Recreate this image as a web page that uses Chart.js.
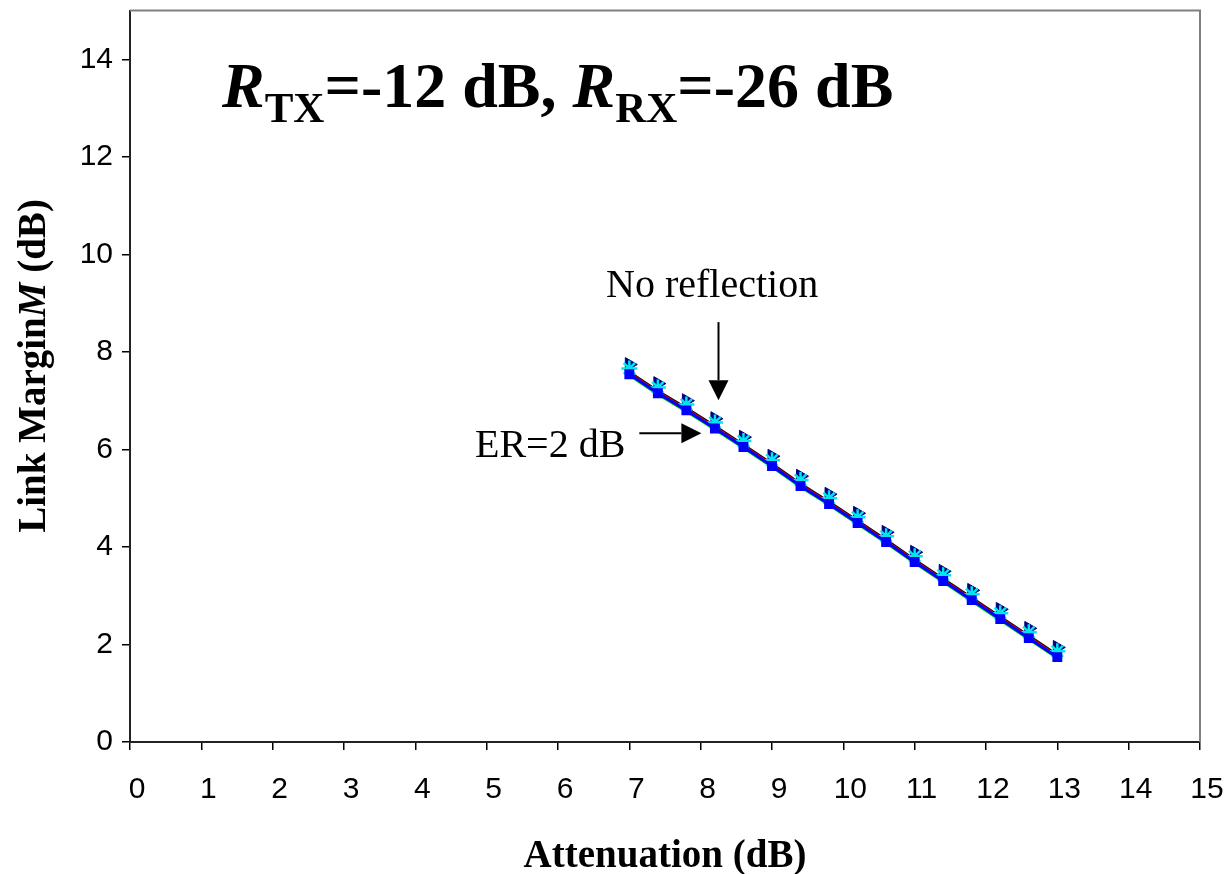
<!DOCTYPE html>
<html>
<head>
<meta charset="utf-8">
<script src="https://cdn.jsdelivr.net/npm/chart.js@4"></script>
<style>
  html, body { margin: 0; padding: 0; background: #fff; }
  #wrap { width: 1230px; height: 874px; }
</style>
</head>
<body>
<div id="wrap"><canvas id="linkChart"></canvas></div>
<script>
// attenuation steps (dB)
var attenuation = [7.0, 7.4, 7.8, 8.2, 8.6, 9.0, 9.4, 9.8, 10.2, 10.6, 11.0, 11.4, 11.8, 12.2, 12.6, 13.0];

// link margin (dB), one list per curve
var marginEr2    = [7.54, 7.15, 6.80, 6.43, 6.05, 5.66, 5.25, 4.88, 4.49, 4.10, 3.69, 3.30, 2.91, 2.52, 2.13, 1.74];
var marginNoRef  = [7.74, 7.35, 7.00, 6.63, 6.25, 5.86, 5.45, 5.08, 4.69, 4.30, 3.89, 3.50, 3.11, 2.72, 2.33, 1.94];
var marginStar   = [7.66, 7.27, 6.92, 6.55, 6.17, 5.78, 5.37, 5.00, 4.61, 4.22, 3.81, 3.42, 3.03, 2.64, 2.25, 1.86];
var marginBlack  = [7.60, 7.21, 6.86, 6.49, 6.11, 5.72, 5.31, 4.94, 4.55, 4.16, 3.75, 3.36, 2.97, 2.58, 2.19, 1.80];
var marginRed    = [7.58, 7.19, 6.84, 6.47, 6.09, 5.70, 5.29, 4.92, 4.53, 4.14, 3.73, 3.34, 2.95, 2.56, 2.17, 1.78];
var marginGreen  = [7.51, 7.12, 6.77, 6.40, 6.02, 5.63, 5.22, 4.85, 4.46, 4.07, 3.66, 3.27, 2.88, 2.49, 2.10, 1.71];

var xTicks = [0, 1, 2, 3, 4, 5, 6, 7, 8, 9, 10, 11, 12, 13, 14, 15];
var yTicks = [0, 2, 4, 6, 8, 10, 12, 14];

// annotation anchors, in data units
var noRefLabel = [8.16, 9.12];
var noRefArrow = [8.25, 8.61, 8.25, 7.01];
var erLabel = [5.89, 5.84];
var erArrow = [7.14, 6.33, 8.01, 6.33];

function pts(ys) {
    return attenuation.map(function (x, i) { return {x: x, y: ys[i]}; });
}

function lineSet(ys, color, width) {
    return { data: pts(ys), showLine: true, borderColor: color, borderWidth: width, pointRadius: 0 };
}

function arrow(ctx, x1, y1, x2, y2) {
    var ang = Math.atan2(y2 - y1, x2 - x1);
    var len = 20, half = 10;
    var bx = x2 - len * Math.cos(ang), by = y2 - len * Math.sin(ang);
    ctx.beginPath();
    ctx.moveTo(x1, y1);
    ctx.lineTo(bx, by);
    ctx.stroke();
    ctx.beginPath();
    ctx.moveTo(x2, y2);
    ctx.lineTo(bx + half * Math.sin(ang), by - half * Math.cos(ang));
    ctx.lineTo(bx - half * Math.sin(ang), by + half * Math.cos(ang));
    ctx.closePath();
    ctx.fill();
}

// draws runs of [text, font, dy] left to right
function runs(ctx, x, y, parts) {
    parts.forEach(function (p) {
        ctx.font = p[1];
        ctx.fillText(p[0], x, y + (p[2] || 0));
        x += ctx.measureText(p[0]).width;
    });
}

var extras = {
    id: 'extras',
    afterDraw: function (chart) {
        var ctx = chart.ctx, a = chart.chartArea;
        var xs = chart.scales.x, ys = chart.scales.y;
        ctx.save();

        // grey frame on top and right
        ctx.strokeStyle = '#808080';
        ctx.lineWidth = 2;
        ctx.beginPath();
        ctx.moveTo(a.left, a.top);
        ctx.lineTo(a.right, a.top);
        ctx.lineTo(a.right, a.bottom);
        ctx.stroke();

        ctx.fillStyle = '#000';
        ctx.strokeStyle = '#000';
        ctx.lineWidth = 2;
        ctx.textBaseline = 'alphabetic';

        // title inside plot
        ctx.textAlign = 'left';
        var big = '64px "Liberation Serif", "Times New Roman", serif';
        var sub = '43px "Liberation Serif", "Times New Roman", serif';
        runs(ctx, a.left + 92, a.top + 96, [
            ['R', 'italic bold ' + big],
            ['TX', 'bold ' + sub, 15],
            ['=-12 dB, ', 'bold ' + big],
            ['R', 'italic bold ' + big],
            ['RX', 'bold ' + sub, 15],
            ['=-26 dB', 'bold ' + big]
        ]);

        // annotations
        ctx.font = '40px "Liberation Serif", "Times New Roman", serif';
        ctx.textAlign = 'center';
        ctx.fillText('No reflection', xs.getPixelForValue(noRefLabel[0]), ys.getPixelForValue(noRefLabel[1]));
        ctx.fillText('ER=2 dB', xs.getPixelForValue(erLabel[0]), ys.getPixelForValue(erLabel[1]));
        arrow(ctx, xs.getPixelForValue(noRefArrow[0]), ys.getPixelForValue(noRefArrow[1]),
              xs.getPixelForValue(noRefArrow[2]), ys.getPixelForValue(noRefArrow[3]));
        arrow(ctx, xs.getPixelForValue(erArrow[0]), ys.getPixelForValue(erArrow[1]),
              xs.getPixelForValue(erArrow[2]), ys.getPixelForValue(erArrow[3]));

        // axis titles
        var ttl = '39px "Liberation Serif", "Times New Roman", serif';
        ctx.font = 'bold ' + ttl;
        ctx.fillText('Attenuation (dB)', (a.left + a.right) / 2, 867);

        ctx.translate(45, 366);
        ctx.rotate(-Math.PI / 2);
        ctx.font = 'bold ' + ttl;
        var w1 = ctx.measureText('Link Margin').width;
        var w3 = ctx.measureText(' (dB)').width;
        ctx.font = 'italic bold ' + ttl;
        var w2 = ctx.measureText('M').width;
        ctx.textAlign = 'left';
        runs(ctx, -(w1 + w2 + w3) / 2, 0, [
            ['Link Margin', 'bold ' + ttl],
            ['M', 'italic bold ' + ttl],
            [' (dB)', 'bold ' + ttl]
        ]);
        ctx.restore();
    }
};

new Chart(document.getElementById('linkChart'), {
    type: 'scatter',
    data: {
        datasets: [{
            label: 'ER=2 dB',
            data: pts(marginEr2),
            showLine: true,
            borderColor: '#0000ff',
            backgroundColor: '#0000ff',
            borderWidth: 3,
            pointStyle: 'rect',
            pointRadius: 7,
            pointBorderWidth: 0
        }, {
            label: 'star markers',
            data: pts(marginStar),
            showLine: false,
            pointStyle: 'star',
            pointRadius: 8,
            pointBorderColor: '#00e5ee',
            pointBackgroundColor: '#00e5ee',
            pointBorderWidth: 2.5
        }, {
            label: 'No reflection',
            data: pts(marginNoRef),
            showLine: false,
            pointStyle: 'triangle',
            pointRotation: -30,
            pointRadius: 8,
            pointBorderColor: '#000080',
            pointBackgroundColor: '#000080',
            pointBorderWidth: 1
        },
        lineSet(marginGreen, '#00dd00', 2),
        lineSet(marginRed, '#cc0000', 1.5),
        lineSet(marginBlack, '#000000', 1.5)
        ]
    },
    options: {
        responsive: true,
        maintainAspectRatio: false,
        animation: false,
        layout: { padding: { top: 10, right: 30, left: 0, bottom: 0 } },
        plugins: {
            legend: { display: false },
            tooltip: { enabled: false }
        },
        scales: {
            x: {
                type: 'linear',
                min: 0,
                max: 15,
                afterBuildTicks: function (s) { s.ticks = xTicks.map(function (v) { return {value: v}; }); },
                afterFit: function (s) { s.height = 132; s.paddingLeft = 0; s.paddingRight = 0; },
                grid: { drawOnChartArea: false, drawTicks: true, tickLength: 8, color: '#000', lineWidth: 1.5 },
                border: { display: true, color: '#222', width: 2 },
                ticks: {
                    color: '#000',
                    padding: 22,
                    labelOffset: 7,
                    maxRotation: 0,
                    autoSkip: false,
                    font: { family: '"Liberation Sans", Arial, sans-serif', size: 30 }
                }
            },
            y: {
                type: 'linear',
                min: 0,
                max: 15,
                afterBuildTicks: function (s) { s.ticks = yTicks.map(function (v) { return {value: v}; }); },
                afterFit: function (s) { s.width = 130; s.paddingTop = 0; s.paddingBottom = 0; },
                grid: { drawOnChartArea: false, drawTicks: true, tickLength: 8, color: '#000', lineWidth: 1.5 },
                border: { display: true, color: '#222', width: 2 },
                ticks: {
                    color: '#000',
                    padding: 9,
                    autoSkip: false,
                    font: { family: '"Liberation Sans", Arial, sans-serif', size: 30 }
                }
            }
        }
    },
    plugins: [extras]
});
</script>
</body>
</html>
